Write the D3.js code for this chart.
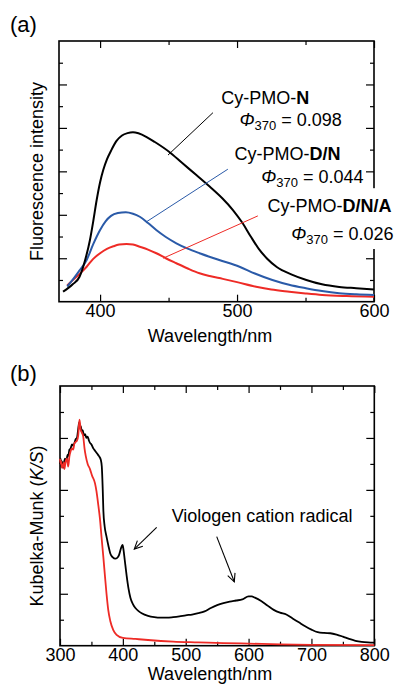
<html>

<head>
	<title>Fluorescence and Kubelka-Munk spectra</title>
	<script type="text/javascript" src="https://cdn.jsdelivr.net/npm/d3@7"></script>
	<style>
		body { margin: 0; background: #fff; }
		text { font-family: "Liberation Sans", Arial, sans-serif; }
	</style>
</head>

<body>
	<script type="text/javascript">
		// ---- data, panel (a): fluorescence spectra
		const wlN = [373, 380, 385, 389, 392.6, 395, 397.5, 400, 402.3, 405, 408, 412, 416, 420, 424, 428, 434, 440, 450.8, 460, 470.5, 480, 489.4, 497, 504, 510, 516, 522, 529, 540, 550.6, 562, 574.6, 587, 600];
		const intN = [0.46, 0.8, 1.15, 1.9, 2.84, 3.7, 4.68, 5.5, 6.06, 6.55, 6.95, 7.4, 7.65, 7.76, 7.8, 7.75, 7.58, 7.35, 6.88, 6.38, 5.82, 5.3, 4.75, 4.22, 3.62, 3.0, 2.42, 1.98, 1.6, 1.25, 1.0, 0.8, 0.68, 0.62, 0.56];

		const wlDN = [376, 378, 384, 390.2, 395, 400, 404, 408, 413, 418.8, 424, 429, 435, 441, 448, 455.7, 464, 472.6, 487, 501.8, 513, 525.8, 538, 550.3, 562, 574.6, 587, 600];
		const intDN = [0.7, 0.85, 1.35, 1.92, 2.65, 3.3, 3.7, 3.95, 4.08, 4.12, 4.05, 3.91, 3.62, 3.3, 2.98, 2.69, 2.44, 2.23, 1.92, 1.61, 1.3, 1.0, 0.78, 0.62, 0.49, 0.39, 0.34, 0.31];

		const wlDNA = [376, 378, 384, 390.2, 395, 400, 405, 409.7, 414, 419.3, 424, 429, 435, 441.1, 448, 455.7, 464, 472.6, 480, 489.6, 500, 513.9, 525, 538.2, 550, 562.2, 580, 600];
		const intDNA = [0.75, 0.87, 1.22, 1.61, 1.97, 2.23, 2.43, 2.55, 2.63, 2.66, 2.63, 2.53, 2.4, 2.23, 2.0, 1.77, 1.53, 1.31, 1.18, 1.05, 0.9, 0.69, 0.56, 0.46, 0.38, 0.31, 0.26, 0.23];

		const labelsA = ["N", "D/N", "D/N/A"];
		const phiA = ["0.098", "0.044", "0.026"];
		const xTicksA = [400, 500, 600];
		const xMinorA = [450, 550];

		// ---- data, panel (b): Kubelka-Munk spectra
		const wlBlack = [300, 301, 302, 303, 305, 306, 308, 310, 312, 313, 315, 317, 319, 321, 323, 325, 327, 329, 330.5, 332, 333, 335, 336, 338, 340, 342, 344, 346, 348, 350, 353, 356, 359, 362, 365, 366.5, 368, 369, 371, 374, 377, 380, 384, 388, 391, 394, 397, 399.5, 401, 403, 406, 409, 412, 416, 420, 425, 430, 440, 450, 460, 470, 480, 490, 500, 510, 520, 530, 540, 550, 560, 570, 580, 590, 600, 605, 610, 620, 630, 640, 650, 660, 670, 680, 690, 700, 710, 720, 730, 740, 750, 760, 770, 780, 790, 800];
		const kmBlack = [7.0, 7.2, 6.9, 7.1, 6.85, 7.0, 7.2, 7.1, 7.35, 7.3, 7.55, 7.6, 7.75, 7.7, 7.8, 7.95, 8.0, 8.35, 8.6, 8.4, 8.45, 8.2, 8.3, 8.1, 8.15, 8.0, 8.05, 7.9, 7.8, 7.75, 7.6, 7.5, 7.4, 7.3, 7.15, 6.9, 6.0, 5.2, 4.6, 4.2, 3.85, 3.55, 3.4, 3.35, 3.38, 3.5, 3.75, 3.88, 3.7, 3.3, 2.7, 2.2, 1.85, 1.6, 1.45, 1.33, 1.25, 1.15, 1.1, 1.08, 1.08, 1.1, 1.13, 1.17, 1.2, 1.25, 1.32, 1.45, 1.56, 1.64, 1.7, 1.74, 1.78, 1.9, 1.9, 1.85, 1.72, 1.55, 1.38, 1.27, 1.2, 1.05, 0.9, 0.75, 0.62, 0.52, 0.49, 0.48, 0.43, 0.35, 0.26, 0.19, 0.15, 0.13, 0.12];

		const wlRed = [300, 301, 302, 303, 304, 305, 306, 307, 309, 311, 313, 315, 317, 319, 321, 323, 325, 327, 329, 331, 333, 335, 337, 339, 341, 344, 347.7, 351, 355.7, 358, 361, 363.5, 366, 369, 371.6, 374, 376.8, 380, 384.8, 390, 400, 420, 440, 480, 520, 560, 600, 650, 700, 800];
		const kmRed = [7.2, 7.0, 7.1, 6.85, 6.95, 6.9, 7.05, 6.8, 7.1, 7.2, 6.9, 7.3, 7.5, 7.6, 7.55, 7.8, 7.85, 7.9, 8.1, 8.7, 8.3, 8.2, 8.05, 7.6, 7.3, 7.0, 6.8, 6.55, 6.25, 5.95, 5.4, 4.9, 4.2, 3.4, 2.66, 2.0, 1.37, 0.95, 0.6, 0.42, 0.3, 0.26, 0.22, 0.16, 0.13, 0.1, 0.08, 0.05, 0.03, 0.02];

		const xTicksB = [300, 400, 500, 600, 700, 800];
		const xMinorB = [350, 450, 550, 650, 750];

		const w = 394;
		const h = 685;
		const fs = 18;

		const svg = d3.select("body")
			.append("svg")
			.attr("width", w)
			.attr("height", h);

		// scales
		const xA = d3.scaleLinear().domain([370, 600]).range([59, 374]);
		const yA = d3.scaleLinear().domain([0, 12]).range([301.7, 41]);
		const xB = d3.scaleLinear().domain([300, 800]).range([60, 374.3]);
		const yB = d3.scaleLinear().domain([0, 10]).range([645.7, 386]);

		// axes with inward ticks on all four sides
		function frame(x, y, majors, minors, yMax, pad) {
			const g = svg.append("g");
			const x0 = x.range()[0], x1 = x.range()[1];
			const y0 = y.range()[0], y1 = y.range()[1];
			const yMajor = d3.range(2, yMax, 2);
			const yMinor = d3.range(1, yMax, 2);

			function add(axis, tr) {
				const a = g.append("g").attr("transform", tr).call(axis);
				a.select(".domain").remove();
				a.selectAll("line").attr("stroke", "#000").attr("stroke-width", 1.2);
				return a;
			}
			const bot = add(d3.axisBottom(x).tickValues(majors).tickSize(-7).tickPadding(pad).tickFormat(d3.format("d")), `translate(0,${y0})`);
			bot.selectAll("text").attr("font-size", fs).attr("fill", "#000").style("font-family", "'Liberation Sans', Arial, sans-serif");
			add(d3.axisBottom(x).tickValues(minors).tickSize(-4).tickFormat(""), `translate(0,${y0})`);
			add(d3.axisTop(x).tickValues(majors).tickSize(-7).tickFormat(""), `translate(0,${y1})`);
			add(d3.axisTop(x).tickValues(minors).tickSize(-4).tickFormat(""), `translate(0,${y1})`);
			add(d3.axisLeft(y).tickValues(yMajor).tickSize(-8).tickFormat(""), `translate(${x0},0)`);
			add(d3.axisLeft(y).tickValues(yMinor).tickSize(-4).tickFormat(""), `translate(${x0},0)`);
			add(d3.axisRight(y).tickValues(yMajor).tickSize(-8).tickFormat(""), `translate(${x1},0)`);
			add(d3.axisRight(y).tickValues(yMinor).tickSize(-4).tickFormat(""), `translate(${x1},0)`);

			g.append("rect")
				.attr("x", x0).attr("y", y1)
				.attr("width", x1 - x0).attr("height", y0 - y1)
				.attr("fill", "none").attr("stroke", "#000").attr("stroke-width", 1.6);
		}

		function curve(x, y, xs, ys, color, sw) {
			const line = d3.line()
				.x(function (d, i) { return x(xs[i]); })
				.y(function (d) { return y(d); })
				.curve(d3.curveMonotoneX);
			svg.append("path")
				.attr("d", line(ys))
				.attr("fill", "none")
				.attr("stroke", color)
				.attr("stroke-width", sw)
				.attr("stroke-linejoin", "round");
		}

		// ---------------- panel (a)
		frame(xA, yA, xTicksA, xMinorA, 12, 3);

		const colN = "#000000";
		const colDN = "#2a5aa8";
		const colDNA = "#ee2b26";

		curve(xA, yA, wlDNA, intDNA, colDNA, 2);
		curve(xA, yA, wlDN, intDN, colDN, 2);
		curve(xA, yA, wlN, intN, colN, 2);

		// leader lines (data units)
		const leaders = [
			[449.6, 6.75, 482.4, 8.7, colN],
			[433.9, 3.68, 493.3, 6.1, colDN],
			[446, 2.0, 515.2, 3.95, colDNA]
		];
		svg.selectAll(".leader")
			.data(leaders)
			.enter()
			.append("line")
			.attr("x1", function (d) { return xA(d[0]); })
			.attr("y1", function (d) { return yA(d[1]); })
			.attr("x2", function (d) { return xA(d[2]); })
			.attr("y2", function (d) { return yA(d[3]); })
			.attr("stroke", function (d) { return d[4]; })
			.attr("stroke-width", 1);

		// label positions (data units): name line, phi line
		const labelPos = [
			[488.4, 9.1, 501.8, 8.1],
			[498.2, 6.52, 517.6, 5.45],
			[522.2, 4.12, 539.5, 2.84]
		];
		labelsA.forEach(function (lab, i) {
			const p = labelPos[i];
			const g = svg.append("g");
			const t1 = g.append("text")
				.attr("x", xA(p[0])).attr("y", yA(p[1]))
				.attr("font-size", fs).attr("fill", "#000");
			t1.append("tspan").text("Cy-PMO-");
			t1.append("tspan").attr("font-weight", "bold").text(lab);

			const t2 = g.append("text")
				.attr("x", xA(p[2])).attr("y", yA(p[3]))
				.attr("font-size", fs).attr("fill", "#000");
			t2.append("tspan").attr("font-style", "italic").text("\u03A6");
			t2.append("tspan").attr("font-size", 13).attr("dy", 4).text("370");
			t2.append("tspan").attr("dy", -4).text(" = " + phiA[i]);

			if (i === 2) {
				// white box behind the last label hides the right axis
				const b = g.node().getBBox();
				g.insert("rect", "text")
					.attr("x", b.x - 3).attr("y", b.y - 8)
					.attr("width", b.width + 20).attr("height", b.height + 10)
					.attr("fill", "#fff");
			}
		});

		svg.append("text")
			.attr("x", 210).attr("y", 341.7)
			.attr("text-anchor", "middle")
			.attr("font-size", fs).attr("fill", "#000")
			.text("Wavelength/nm");

		svg.append("text")
			.attr("transform", "translate(43," + 171.5 + ") rotate(-90)")
			.attr("text-anchor", "middle")
			.attr("font-size", fs).attr("fill", "#000")
			.text("Fluorescence intensity");

		svg.append("text")
			.attr("x", 10).attr("y", 32)
			.attr("font-size", 22).attr("fill", "#000")
			.text("(a)");

		// ---------------- panel (b)
		frame(xB, yB, xTicksB, xMinorB, 10, 3);

		curve(xB, yB, wlBlack, kmBlack, "#000", 1.8);
		curve(xB, yB, wlRed, kmRed, "#ee2b26", 1.8);

		// arrows (data units): start, tip
		const arrows = [
			[453.8, 4.56, 418.2, 3.72],
			[549.3, 4.2, 577.3, 2.46]
		];
		arrows.forEach(function (a) {
			const sx = xB(a[0]), sy = yB(a[1]), tx = xB(a[2]), ty = yB(a[3]);
			const ang = Math.atan2(ty - sy, tx - sx);
			const len = 9, spread = Math.PI / 7;
			svg.append("line")
				.attr("x1", sx).attr("y1", sy).attr("x2", tx).attr("y2", ty)
				.attr("stroke", "#000").attr("stroke-width", 1.1);
			svg.append("path")
				.attr("d", "M" + (tx - len * Math.cos(ang - spread)) + "," + (ty - len * Math.sin(ang - spread)) +
					"L" + tx + "," + ty +
					"L" + (tx - len * Math.cos(ang + spread)) + "," + (ty - len * Math.sin(ang + spread)))
				.attr("fill", "none").attr("stroke", "#000").attr("stroke-width", 1.1);
		});

		svg.append("text")
			.attr("x", xB(477.6)).attr("y", yB(4.77))
			.attr("font-size", fs).attr("fill", "#000")
			.text("Viologen cation radical");

		svg.append("text")
			.attr("x", 210).attr("y", 680)
			.attr("text-anchor", "middle")
			.attr("font-size", fs).attr("fill", "#000")
			.text("Wavelength/nm");

		const yl = svg.append("text")
			.attr("transform", "translate(43," + 526 + ") rotate(-90)")
			.attr("text-anchor", "middle")
			.attr("font-size", fs).attr("fill", "#000");
		yl.append("tspan").text("Kubelka-Munk (");
		yl.append("tspan").attr("font-style", "italic").text("K/S");
		yl.append("tspan").text(")");

		svg.append("text")
			.attr("x", 10).attr("y", 381)
			.attr("font-size", 22).attr("fill", "#000")
			.text("(b)");
	</script>
</body>

</html>
